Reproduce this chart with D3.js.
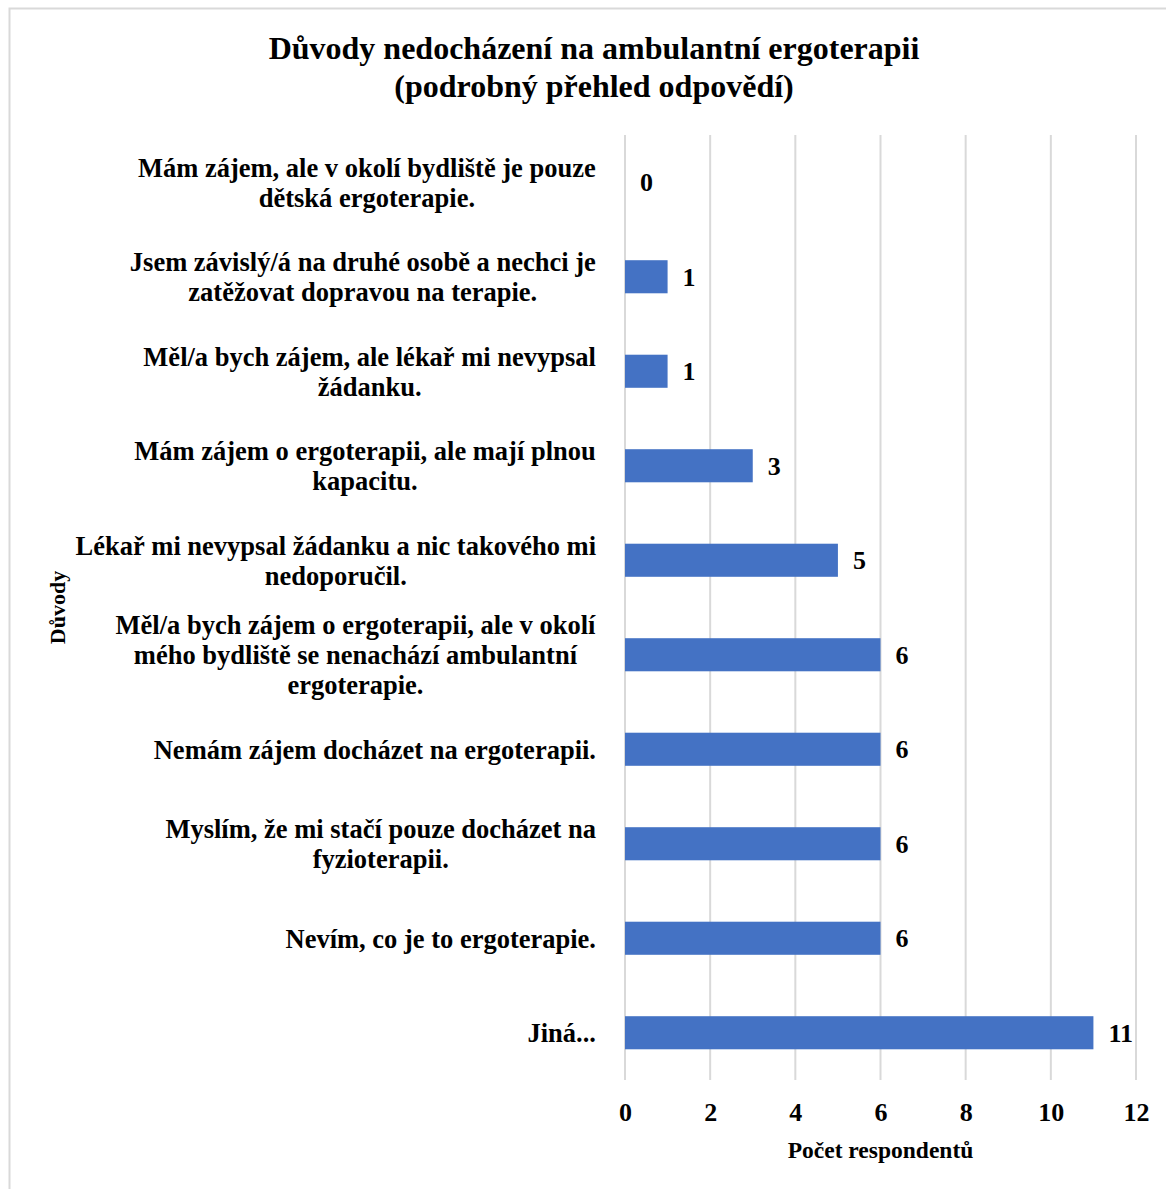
<!DOCTYPE html>
<html>
<head>
<meta charset="utf-8">
<script src="https://cdn.jsdelivr.net/npm/d3@7"></script>
<style>
  html, body { margin: 0; padding: 0; background: #fff; }
  svg { display: block; }
</style>
</head>
<body>
<svg id="chart" width="1166" height="1189"></svg>
<script>
// Reasons (top to bottom), line breaks marked with \n
const categories = [
  "Mám zájem, ale v okolí bydliště je pouze\ndětská ergoterapie.",
  "Jsem závislý/á na druhé osobě a nechci je\nzatěžovat dopravou na terapie.",
  "Měl/a bych zájem, ale lékař mi nevypsal\nžádanku.",
  "Mám zájem o ergoterapii, ale mají plnou\nkapacitu.",
  "Lékař mi nevypsal žádanku a nic takového mi\nnedoporučil.",
  "Měl/a bych zájem o ergoterapii, ale v okolí\nmého bydliště se nenachází ambulantní\nergoterapie.",
  "Nemám zájem docházet na ergoterapii.",
  "Myslím, že mi stačí pouze docházet na\nfyzioterapii.",
  "Nevím, co je to ergoterapie.",
  "Jiná..."
];
const values = [0, 1, 1, 3, 5, 6, 6, 6, 6, 11];
const xTicks = [0, 2, 4, 6, 8, 10, 12];
const titleLines = ["Důvody nedocházení na ambulantní ergoterapii", "(podrobný přehled odpovědí)"];
const xTitle = "Počet respondentů";
const yTitle = "Důvody";

const FONT = "'Liberation Serif', 'Times New Roman', serif";

const svg = d3.select("#chart")
  .style("font-family", FONT)
  .style("font-weight", "bold");

// outer chart frame
svg.append("rect")
  .attr("x", 9.5).attr("y", 8.5)
  .attr("width", 1200).attr("height", 1200)
  .attr("fill", "#fff")
  .attr("stroke", "#d9d9d9").attr("stroke-width", 2);

const plot = { left: 625, right: 1136, top: 135, bottom: 1080 };

const x = d3.scaleLinear().domain([0, 12]).range([plot.left, plot.right]);
const y = d3.scaleBand().domain(categories).range([plot.top, plot.bottom]).paddingInner(0.65).paddingOuter(0.325);

function txt(sel, size) {
  return sel.style("font-family", FONT).style("font-weight", "bold")
    .style("font-size", size + "px").attr("fill", "#000");
}

// vertical gridlines
svg.append("g").selectAll("line").data(xTicks).join("line")
  .attr("x1", d => x(d)).attr("x2", d => x(d))
  .attr("y1", plot.top).attr("y2", plot.bottom)
  .attr("stroke", "#d9d9d9").attr("stroke-width", 2);

// bars
svg.append("g").selectAll("rect").data(values).join("rect")
  .attr("x", x(0))
  .attr("y", (d, i) => y(categories[i]))
  .attr("width", d => x(d) - x(0))
  .attr("height", y.bandwidth())
  .attr("fill", "#4472c4");

// value labels
svg.append("g").selectAll("text").data(values).join("text")
  .attr("x", d => x(d) + 15)
  .attr("y", (d, i) => y(categories[i]) + y.bandwidth() / 2)
  .attr("dy", "0.35em")
  .call(txt, 26)
  .text(d => d);

// x axis tick labels
const xAxis = d3.axisBottom(x).tickValues(xTicks).tickSize(0).tickPadding(0);
const gx = svg.append("g").attr("transform", `translate(0,${plot.bottom + 32})`).call(xAxis);
gx.select(".domain").remove();
gx.attr("font-family", null).attr("font-size", null);
gx.selectAll("text")
  .attr("y", 0).attr("dy", "0.35em")
  .call(txt, 26);

// category labels: centred lines, block right-aligned to the axis
const lineH = 30;
const gy = svg.append("g");
categories.forEach(c => {
  const lines = c.split("\n");
  const cy = y(c) + y.bandwidth() / 2;
  const t = gy.append("text")
    .attr("text-anchor", "middle")
    .call(txt, 26.5);
  lines.forEach((ln, k) => {
    t.append("tspan")
      .attr("x", 350)
      .attr("y", cy + (k - (lines.length - 1) / 2) * lineH)
      .attr("dy", "0.35em")
      .text(ln);
  });
});
gy.selectAll("text").each(function () {
  const b = this.getBBox();
  const shift = Math.min(596 - (b.x + b.width), 79 - b.x);
  d3.select(this).attr("transform", `translate(${Math.max(shift, 596 - (b.x + b.width))},0)`);
});

// chart title
svg.append("g").selectAll("text").data(titleLines).join("text")
  .attr("x", 594)
  .attr("y", (d, i) => 48 + i * 38)
  .attr("dy", "0.35em")
  .attr("text-anchor", "middle")
  .call(txt, 32)
  .text(d => d);

// axis titles
svg.append("text")
  .attr("x", x(6)).attr("y", 1150).attr("dy", "0.35em")
  .attr("text-anchor", "middle")
  .call(txt, 23.5)
  .text(xTitle);

svg.append("text")
  .attr("transform", `translate(57,${(plot.top + plot.bottom) / 2}) rotate(-90)`)
  .attr("dy", "0.35em")
  .attr("text-anchor", "middle")
  .call(txt, 22)
  .text(yTitle);
</script>
</body>
</html>
